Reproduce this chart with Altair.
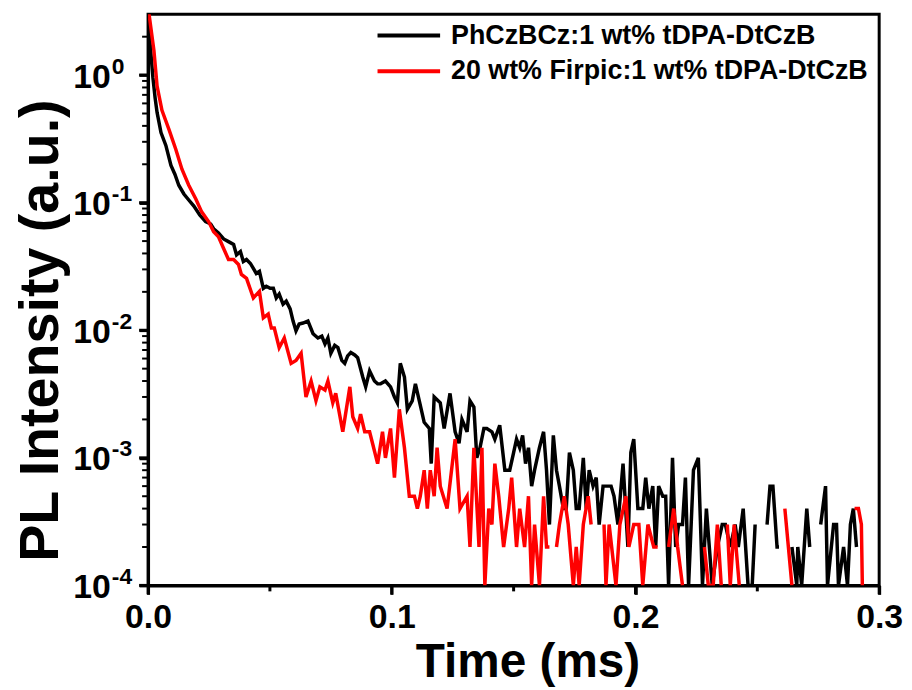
import altair as alt
import pandas as pd

SERIES = ["PhCzBCz:1 wt% tDPA-DtCzB", "20 wt% Firpic:1 wt% tDPA-DtCzB"]
COLORS = ["#000000", "#ff0000"]

X_TICKS = [0.0, 0.1, 0.2, 0.3]
X_MINOR = [0.05, 0.15, 0.25]
Y_TICKS = [1e-4, 1e-3, 1e-2, 1e-1, 1.0]
Y_MINOR = [m * d for d in [1e-4, 1e-3, 1e-2, 1e-1] for m in range(2, 10)] + [2.0]

# (time in ms, PL intensity); None = zero counts (gap on log scale)
black_points = [
    (0.0000, 3.0), (0.0008, 1.8), (0.0020, 0.95), (0.0029, 0.66), (0.0037, 0.51),
    (0.0053, 0.354), (0.0073, 0.281), (0.0094, 0.196), (0.0110, 0.167), (0.0126, 0.137),
    (0.0147, 0.117), (0.0167, 0.105), (0.0188, 0.094), (0.0212, 0.080), (0.0236, 0.071),
    (0.0257, 0.068), (0.0269, 0.0625), (0.0289, 0.058), (0.0310, 0.052), (0.0330, 0.0495),
    (0.0351, 0.047), (0.0363, 0.039), (0.0379, 0.0414), (0.0391, 0.0346), (0.0404, 0.0359),
    (0.0420, 0.0334), (0.0432, 0.0305), (0.0444, 0.0279), (0.0457, 0.0290), (0.0473, 0.0213),
    (0.0485, 0.0221), (0.0501, 0.0213), (0.0514, 0.0213), (0.0526, 0.0179), (0.0538, 0.0192),
    (0.0554, 0.0160), (0.0567, 0.0169), (0.0583, 0.0147), (0.0595, 0.0118), (0.0607, 0.0099),
    (0.0620, 0.0112), (0.0636, 0.0114), (0.0656, 0.0118), (0.0677, 0.0094), (0.0697, 0.0087),
    (0.0713, 0.0090), (0.0726, 0.0078), (0.0738, 0.0087), (0.0750, 0.0066), (0.0766, 0.0076),
    (0.0779, 0.0073), (0.0795, 0.0058), (0.0807, 0.0055), (0.0819, 0.0063), (0.0832, 0.0067),
    (0.0848, 0.0064), (0.0860, 0.0061), (0.0881, 0.0043), (0.0893, 0.0036), (0.0909, 0.0048),
    (0.0929, 0.0040), (0.0942, 0.0038), (0.0954, 0.0038), (0.0974, 0.0040), (0.0995, 0.0036),
    (0.1011, 0.0030), (0.1023, 0.0027), (0.1035, 0.0055), (0.1052, 0.0043), (0.1064, 0.0024),
    (0.1084, 0.0028), (0.1097, 0.0038), (0.1113, 0.0028), (0.1133, 0.0019), (0.1154, 0.0017),
    (0.1162, 0.0009), (0.1174, 0.0030), (0.1199, 0.0027), (0.1215, 0.0017), (0.1239, 0.0032),
    (0.1260, 0.0016), (0.1276, 0.0013), (0.1288, 0.0020), (0.1309, 0.0016), (0.1321, 0.0028),
    (0.1337, 0.0025), (0.1349, 0.0010), (0.1362, 0.0012), (0.1378, 0.0017), (0.1390, 0.0017),
    (0.1411, 0.0016), (0.1423, 0.0014), (0.1443, 0.0018), (0.1464, 0.0008), (0.1484, 0.0008),
    (0.1500, 0.0011), (0.1512, 0.0014), (0.1525, 0.0012), (0.1537, 0.0015), (0.1549, 0.0009),
    (0.1561, 0.0012), (0.1574, 0.0006), (0.1586, 0.0008), (0.1606, 0.0012), (0.1623, 0.0016),
    (0.1635, 0.0008), (0.1647, 0.0003), (0.1663, 0.0015), (0.1676, 0.0008), (0.1688, 0.0006),
    (0.1704, 0.0004), (0.1716, 0.0004), (0.1729, 0.0011), (0.1745, 0.0008), (0.1757, 0.0004),
    (0.1769, 0.0004), (0.1786, 0.0010), (0.1798, 0.0004), (0.1810, 0.0008), (0.1826, 0.0006),
    (0.1839, 0.0007), (0.1851, 0.0003), (0.1867, 0.0006), (0.1879, 0.0006), (0.1900, 0.0006),
    (0.1912, 0.0005), (0.1928, 0.0003), (0.1949, 0.0009), (0.1969, 0.0002), (0.1981, 0.0011),
    (0.1993, 0.0014), (0.2010, 0.0004), (0.2030, 0.0004), (0.2042, 0.0007), (0.2055, 0.0004),
    (0.2071, 0.0006), (0.2083, 0.0002), (0.2095, 0.0006), (0.2112, 0.0005), (0.2124, 0.0005),
    (0.2136, 0.0001), (0.2152, 0.0010), (0.2165, 0.0002), (0.2177, 0.0003), (0.2193, 0.0003),
    (0.2205, 0.0007), (0.2218, 0.0001), (0.2238, 0.0008), (0.2258, 0.0010), (0.2275, 0.0001),
    (0.2291, 0.0004), (0.2315, 0.0001), (0.2336, 0.0002), (0.2356, 0.0003), (0.2369, 0.0003),
    (0.2389, 0.0002), (0.2409, 0.0003), (0.2422, 0.0002), (0.2442, 0.0004), (0.2462, 0.0001),
    (0.2479, 0.0001), (0.2491, 0.0003), (0.2510, None), (0.2540, 0.0003), (0.2552, 0.0006),
    (0.2564, 0.0006), (0.2581, 0.0002), (0.2589, 0.0002), (0.2610, None), (0.2642, 0.0002),
    (0.2662, 0.0001), (0.2666, 0.0002), (0.2682, 0.0001), (0.2703, 0.0004), (0.2715, 0.0002),
    (0.2735, None), (0.2760, 0.0003), (0.2780, 0.0006), (0.2788, 0.0001), (0.2813, 0.0003),
    (0.2825, 0.0003), (0.2833, 0.0001), (0.2854, 0.0002), (0.2870, 0.0001), (0.2882, 0.0003),
    (0.2894, 0.0004), (0.2907, 0.0002),
]

red_points = [
    (0.0000, 4.0), (0.0004, 3.0), (0.0024, 1.56), (0.0037, 0.82), (0.0057, 0.53),
    (0.0086, 0.374), (0.0114, 0.261), (0.0139, 0.183), (0.0167, 0.137), (0.0196, 0.107),
    (0.0220, 0.0847), (0.0249, 0.0708), (0.0269, 0.0592), (0.0289, 0.0541), (0.0310, 0.0437),
    (0.0330, 0.0359), (0.0351, 0.0359), (0.0371, 0.0328), (0.0383, 0.0274), (0.0404, 0.0255),
    (0.0432, 0.0179), (0.0457, 0.0202), (0.0473, 0.0125), (0.0493, 0.0134), (0.0506, 0.0104),
    (0.0518, 0.0104), (0.0538, 0.0073), (0.0559, 0.0087), (0.0587, 0.0055), (0.0607, 0.0058),
    (0.0628, 0.0066), (0.0648, 0.0030), (0.0669, 0.0040), (0.0689, 0.0028), (0.0705, 0.0036),
    (0.0726, 0.0034), (0.0738, 0.0040), (0.0758, 0.0027), (0.0770, 0.0032), (0.0799, 0.0016),
    (0.0828, 0.0036), (0.0840, 0.0021), (0.0860, 0.0017), (0.0872, 0.0022), (0.0889, 0.0016),
    (0.0909, 0.0016), (0.0921, 0.0013), (0.0942, 0.0009), (0.0962, 0.0016), (0.0974, 0.0010),
    (0.0995, 0.0017), (0.1011, 0.0007), (0.1031, 0.0024), (0.1052, 0.0012), (0.1072, 0.0005),
    (0.1093, 0.0005), (0.1105, 0.0004), (0.1117, 0.0005), (0.1133, 0.0008), (0.1146, 0.0004),
    (0.1158, 0.0008), (0.1174, 0.0005), (0.1186, 0.0012), (0.1199, 0.0006), (0.1227, 0.0004),
    (0.1260, 0.0014), (0.1280, 0.0004), (0.1309, 0.0005), (0.1321, 0.0002), (0.1337, 0.0012),
    (0.1358, 0.0002), (0.1370, 0.0012), (0.1382, 0.0001), (0.1398, 0.0004), (0.1411, 0.0003),
    (0.1423, 0.0009), (0.1439, 0.0005), (0.1459, 0.0002), (0.1480, 0.0004), (0.1492, 0.0007),
    (0.1512, 0.0002), (0.1525, 0.0004), (0.1545, 0.0002), (0.1561, 0.0005), (0.1574, 0.0001),
    (0.1586, 0.0003), (0.1606, 0.0001), (0.1623, 0.0005), (0.1635, 0.0002), (0.1647, 0.0002),
    (0.1660, None), (0.1676, 0.0002), (0.1688, 0.0003), (0.1708, 0.0005), (0.1724, 0.0003),
    (0.1745, 0.0001), (0.1757, 0.0002), (0.1769, 0.0001), (0.1786, 0.0003), (0.1806, 0.0005),
    (0.1818, 0.0003), (0.1840, None), (0.1871, 0.0003), (0.1879, 0.0001), (0.1892, 0.0003),
    (0.1920, 0.0001), (0.1936, 0.0003), (0.1961, 0.0005), (0.1973, 0.0002), (0.1993, 0.0003),
    (0.2014, 0.0003), (0.2030, 0.0001), (0.2051, 0.0003), (0.2075, 0.0002), (0.2091, 0.0002),
    (0.2110, None), (0.2136, 0.0002), (0.2157, 0.0004), (0.2173, 0.0002), (0.2193, 0.0001),
    (0.2240, None), (0.2283, 0.0002), (0.2299, 0.0001), (0.2319, 0.0001), (0.2336, 0.0003),
    (0.2352, 0.0001), (0.2365, None), (0.2377, 0.0003), (0.2389, 0.0001), (0.2405, 0.0003),
    (0.2426, 0.0001), (0.2500, None), (0.2613, 0.0004), (0.2642, 0.0001), (0.2700, None),
    (0.2899, 0.0004), (0.2915, 0.0004), (0.2927, 0.0003), (0.2931, 0.0001),
]

rows = []
for name, pts in zip(SERIES, [black_points, red_points]):
    for t, v in pts:
        rows.append({"series": name, "time": t, "pl": v})
df = pd.DataFrame(rows)

ytick_df = pd.DataFrame({"v": Y_TICKS + Y_MINOR,
                         "kind": ["major"] * len(Y_TICKS) + ["minor"] * len(Y_MINOR)})
xtick_df = pd.DataFrame({"v": X_TICKS + X_MINOR,
                         "kind": ["major"] * len(X_TICKS) + ["minor"] * len(X_MINOR)})

FONT = "Liberation Sans"
W, H = 736, 575
TICK_COLOR = "black"

xscale = alt.Scale(domain=[0, 0.3], nice=False, zero=False)
yscale = alt.Scale(type="log", domain=[1e-4, 3], nice=False)

color = alt.Color(
    "series:N",
    scale=alt.Scale(domain=SERIES, range=COLORS),
    legend=alt.Legend(
        title=None, orient="none", legendX=270, legendY=8,
        symbolType="M-5,0H1", symbolSize=441, symbolStrokeWidth=4,
        labelFont=FONT, labelFontSize=27, labelFontWeight="bold", labelColor="black",
        labelOffset=8, rowPadding=8, padding=0, labelLimit=800,
    ),
)

x_major = alt.Axis(
    values=X_TICKS, format=".1f", ticks=True, tickSize=9, tickWidth=3, tickColor="black",
    domain=True, domainWidth=3, domainColor="black", grid=False,
    labelFlush=False, labelOverlap=False,
    labelFont=FONT, labelFontSize=34, labelFontWeight="bold", labelColor="black", labelPadding=6,
    title="Time (ms)", titleFont=FONT, titleFontSize=48, titleFontWeight="bold", titleColor="black",
    titleX=382, titleY=92, titleAlign="center", titleBaseline="alphabetic",
)
y_major = alt.Axis(
    values=Y_TICKS, labelExpr="'10'", ticks=True, tickSize=9, tickWidth=3, tickColor="black",
    domain=True, domainWidth=3, domainColor="black", grid=False,
    labelOverlap=False, labelFlush=False,
    labelFont=FONT, labelFontSize=34, labelFontWeight="bold", labelColor="black",
    labelPadding=29, labelBaseline="middle", labelOffset=2,
    title="PL Intensity (a.u.)", titleFont=FONT, titleFontSize=56, titleFontWeight="bold",
    titleColor="black", titleAngle=270, titleX=-108, titleY=318, titleAlign="center",
    titleBaseline="middle",
)
y_exp_expr = (
    "datum.value > 0.5 ? '0' : datum.value > 0.05 ? '-1' : "
    "datum.value > 0.005 ? '-2' : datum.value > 0.0005 ? '-3' : '-4'"
)
y_exp = alt.Axis(
    values=Y_TICKS, labelExpr=y_exp_expr, ticks=False, tickSize=0, domain=False, grid=False,
    labelOverlap=False, labelFlush=False, labelAlign="left",
    labelFont=FONT, labelFontSize=23, labelFontWeight="bold", labelColor="black",
    labelPadding=37, labelBaseline="middle", labelOffset=-9, title=None, orient="left",
)

line_props = dict(strokeWidth=3.5, clip=True, invalid="break-paths-show-domains")

black_layer = alt.Chart(df).transform_filter(alt.datum.series == SERIES[0]).mark_line(
    **line_props
).encode(
    x=alt.X("time:Q", scale=xscale, axis=x_major),
    y=alt.Y("pl:Q", scale=yscale, axis=y_major),
    color=color,
)
red_layer = alt.Chart(df).transform_filter(alt.datum.series == SERIES[1]).mark_line(
    **line_props
).encode(
    x=alt.X("time:Q", scale=xscale, axis=x_major),
    y=alt.Y("pl:Q", scale=yscale, axis=y_major),
    color=color,
)

exp_layer = alt.Chart(df).mark_line(opacity=0, clip=True).encode(
    x=alt.X("time:Q", scale=xscale, axis=None),
    y=alt.Y("pl:Q", scale=yscale, axis=y_exp),
)

# tick marks drawn as rules just outside the frame
ytick_major = alt.Chart(ytick_df).transform_filter(alt.datum.kind == "major").mark_rule(
    color=TICK_COLOR, strokeWidth=3, clip=False
).encode(y=alt.Y("v:Q", scale=yscale, axis=None), x=alt.value(-9), x2=alt.value(0))
ytick_minor = alt.Chart(ytick_df).transform_filter(alt.datum.kind == "minor").mark_rule(
    color=TICK_COLOR, strokeWidth=2, clip=False
).encode(y=alt.Y("v:Q", scale=yscale, axis=None), x=alt.value(-6), x2=alt.value(0))
xtick_major = alt.Chart(xtick_df).transform_filter(alt.datum.kind == "major").mark_rule(
    color=TICK_COLOR, strokeWidth=3, clip=False
).encode(x=alt.X("v:Q", scale=xscale, axis=None), y=alt.value(H), y2=alt.value(H + 9))
xtick_minor = alt.Chart(xtick_df).transform_filter(alt.datum.kind == "minor").mark_rule(
    color=TICK_COLOR, strokeWidth=3, clip=False
).encode(x=alt.X("v:Q", scale=xscale, axis=None), y=alt.value(H), y2=alt.value(H + 6))

chart = alt.layer(
    alt.layer(black_layer, red_layer), exp_layer,
    ytick_major, ytick_minor, xtick_major, xtick_minor,
).resolve_axis(x="independent", y="independent").properties(
    width=W, height=H,
    autosize=alt.AutoSizeParams(type="none"),
    padding={"left": 141, "top": 4, "right": 25, "bottom": 100},
    background="white",
).configure_view(stroke="black", strokeWidth=3)

chart.save("out.html", embed_options={"renderer": "svg", "actions": False})
